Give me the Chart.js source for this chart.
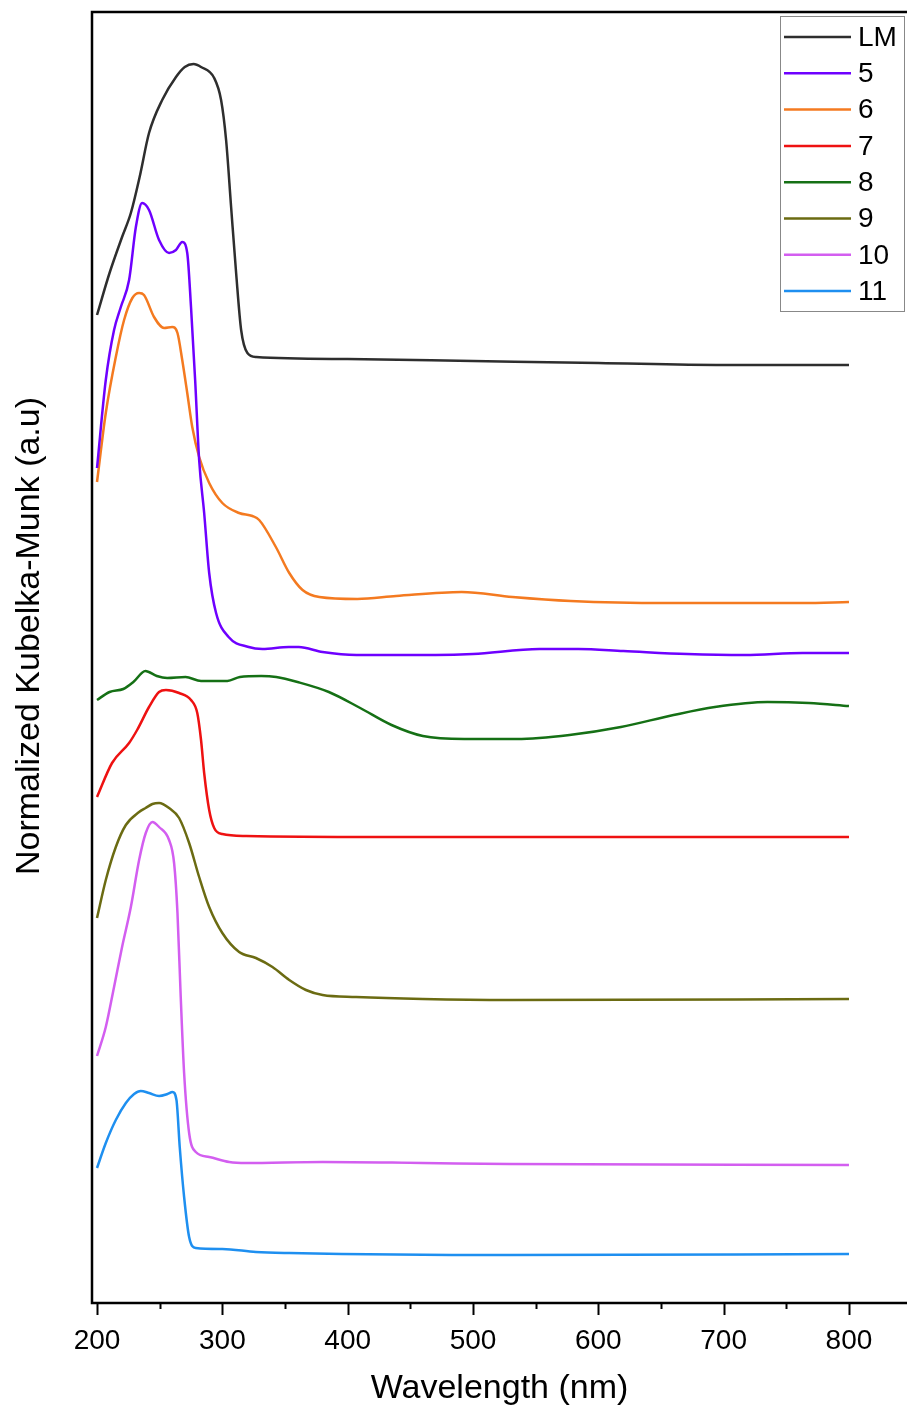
<!DOCTYPE html>
<html>
<head>
<meta charset="utf-8">
<title>Normalized Kubelka-Munk</title>
<script src="https://cdn.jsdelivr.net/npm/chart.js@4.4.0/dist/chart.umd.min.js"></script>
<style>
    html, body { margin: 0; padding: 0; background: #fff; }
    canvas { display: block; }
</style>
</head>
<body>
<canvas id="kmChart" width="907" height="1409"></canvas>
<script>
// Series labels and colours (legend order)
const seriesLabels = ['LM', '5', '6', '7', '8', '9', '10', '11'];
const seriesColors = ['#2e2e2e', '#6e00ff', '#f47a20', '#ee1111', '#157015', '#6b6b12', '#d35ef0', '#1e8ff0'];

// Wavelength (nm) / normalized K-M (a.u., offset stacked)
const lmNm = [200, 210, 220, 227, 234, 241.5, 252, 263, 270, 277, 283, 293.5, 299, 303, 307, 311, 315, 320, 327, 400, 500, 600, 700, 800];
const lmKM = [9.88, 10.30, 10.66, 10.90, 11.26, 11.70, 12.03, 12.26, 12.36, 12.39, 12.36, 12.25, 12.03, 11.63, 10.96, 10.30, 9.73, 9.50, 9.46, 9.44, 9.42, 9.40, 9.38, 9.38];

const s5Nm = [200, 207, 213.6, 219, 225.6, 231, 236, 241.5, 249.5, 257.5, 263, 268, 272, 275, 278.3, 281.5, 285.5, 289.5, 295, 305, 321, 332, 353, 361, 380, 407, 440, 470, 500, 553, 584, 620, 671, 717, 763, 800];
const s5KM = [8.35, 9.23, 9.73, 9.96, 10.23, 10.76, 11.00, 10.93, 10.63, 10.50, 10.53, 10.61, 10.50, 9.96, 9.23, 8.43, 7.90, 7.30, 6.90, 6.66, 6.56, 6.54, 6.56, 6.56, 6.51, 6.48, 6.48, 6.48, 6.49, 6.54, 6.54, 6.52, 6.49, 6.48, 6.50, 6.50];

const s6Nm = [200, 207, 215, 221.6, 228.2, 233.6, 237.5, 245.5, 253.5, 260, 264.2, 268, 272, 276, 281.5, 289.5, 300, 313.4, 324, 329.4, 342.7, 353.4, 364, 377.4, 407.7, 438.7, 491, 531.5, 578, 655, 763, 800];
const s6KM = [8.21, 8.90, 9.46, 9.83, 10.05, 10.10, 10.08, 9.86, 9.75, 9.76, 9.70, 9.43, 9.10, 8.76, 8.46, 8.20, 8.00, 7.90, 7.87, 7.83, 7.56, 7.30, 7.13, 7.06, 7.04, 7.07, 7.11, 7.06, 7.02, 7.00, 7.00, 7.01];

const s7Nm = [200, 212, 225.6, 232, 241.5, 249.5, 255, 265.5, 275, 280, 283, 285.5, 289.5, 293.5, 300, 319, 425, 800];
const s7KM = [5.06, 5.40, 5.60, 5.73, 5.96, 6.11, 6.13, 6.10, 6.03, 5.90, 5.63, 5.30, 4.93, 4.75, 4.69, 4.67, 4.66, 4.66];

const s8Nm = [200, 210, 221, 229, 238.6, 247.7, 256, 270.6, 283, 291.5, 304, 314, 331, 343, 360, 385, 410, 435, 460, 493, 535, 577, 618, 660, 693, 735, 768, 800];
const s8KM = [6.03, 6.11, 6.14, 6.21, 6.32, 6.27, 6.25, 6.26, 6.22, 6.22, 6.22, 6.26, 6.27, 6.26, 6.21, 6.11, 5.95, 5.78, 5.67, 5.64, 5.64, 5.68, 5.76, 5.88, 5.96, 6.01, 6.00, 5.97];

const s9Nm = [200, 207, 215, 223, 233.6, 238.8, 244.2, 249.5, 257.5, 265.5, 273.5, 281.5, 289.5, 300, 313.4, 326.8, 340, 353.4, 366.7, 380, 406.7, 460, 529, 800];
const s9KM = [3.85, 4.23, 4.56, 4.78, 4.91, 4.95, 4.99, 5.00, 4.95, 4.85, 4.60, 4.26, 3.96, 3.70, 3.51, 3.45, 3.36, 3.23, 3.13, 3.08, 3.06, 3.04, 3.03, 3.04];

const s10Nm = [200, 207, 213.6, 220, 227, 233.6, 238.9, 244.2, 249.5, 257.5, 261.5, 264.2, 266.8, 269.5, 273.5, 278.8, 289.5, 305.5, 318.8, 380, 460, 529, 800];
const s10KM = [2.47, 2.76, 3.16, 3.56, 3.96, 4.43, 4.70, 4.81, 4.76, 4.63, 4.40, 3.90, 3.06, 2.30, 1.70, 1.51, 1.46, 1.41, 1.40, 1.41, 1.40, 1.39, 1.38];

const s11Nm = [200, 207, 215, 223, 229.6, 234.9, 241.5, 249.5, 256.2, 260.2, 263.4, 266, 269.5, 273.5, 278.8, 300, 326.8, 353.4, 529, 800];
const s11KM = [1.35, 1.60, 1.83, 2.00, 2.09, 2.12, 2.10, 2.07, 2.09, 2.11, 2.03, 1.56, 1.06, 0.66, 0.55, 0.54, 0.51, 0.50, 0.48, 0.49];

// Axis ticks
const majorTicks = [200, 300, 400, 500, 600, 700, 800];
const minorTicks = [250, 350, 450, 550, 650, 750];

const allNm = [lmNm, s5Nm, s6Nm, s7Nm, s8Nm, s9Nm, s10Nm, s11Nm];
const allKM = [lmKM, s5KM, s6KM, s7KM, s8KM, s9KM, s10KM, s11KM];

const FONT = '"Liberation Sans", Arial, sans-serif';

// Frame, tick marks, legend and y title
const decorPlugin = {
    id: 'decor',
    afterDraw(chart) {
        const ctx = chart.ctx;
        const area = chart.chartArea;
        const x = chart.scales.x;
        ctx.save();

        // frame (right side runs off the canvas)
        ctx.strokeStyle = '#000';
        ctx.lineWidth = 2.5;
        ctx.beginPath();
        ctx.moveTo(area.right + 5, area.top);
        ctx.lineTo(area.left, area.top);
        ctx.lineTo(area.left, area.bottom);
        ctx.lineTo(area.right + 5, area.bottom);
        ctx.stroke();

        // tick marks
        ctx.lineWidth = 2;
        majorTicks.concat(minorTicks).forEach(v => {
            const px = Math.round(x.getPixelForValue(v)) + 0.5;
            const len = majorTicks.includes(v) ? 12 : 6;
            ctx.beginPath();
            ctx.moveTo(px, area.bottom);
            ctx.lineTo(px, area.bottom + len);
            ctx.stroke();
        });

        // legend box
        ctx.strokeStyle = '#888';
        ctx.lineWidth = 1;
        ctx.strokeRect(780.5, 16.5, 124, 295);
        ctx.font = '28px ' + FONT;
        ctx.textBaseline = 'middle';
        ctx.textAlign = 'left';
        ctx.fillStyle = '#000';
        seriesLabels.forEach((label, i) => {
            const y = 37 + i * 36.3;
            ctx.strokeStyle = seriesColors[i];
            ctx.lineWidth = 2.5;
            ctx.beginPath();
            ctx.moveTo(784, y);
            ctx.lineTo(851, y);
            ctx.stroke();
            ctx.fillText(label, 858, y + 1);
        });

        // y axis title
        ctx.translate(30, 636);
        ctx.rotate(-Math.PI / 2);
        ctx.textAlign = 'center';
        ctx.font = '34px ' + FONT;
        ctx.fillText('Normalized Kubelka-Munk (a.u)', 0, 0);
        ctx.restore();
    }
};

const datasets = seriesLabels.map((label, i) => ({
    label: label,
    data: allNm[i].map((nm, j) => ({ x: nm, y: allKM[i][j] })),
    borderColor: seriesColors[i],
    borderWidth: 2.5,
    pointRadius: 0,
    fill: false,
    cubicInterpolationMode: 'monotone'
}));

new Chart(document.getElementById('kmChart').getContext('2d'), {
    type: 'line',
    data: { datasets: datasets },
    options: {
        responsive: false,
        animation: false,
        events: [],
        layout: { padding: { left: 92, top: 12, right: 0, bottom: 0 } },
        plugins: {
            legend: { display: false },
            tooltip: { enabled: false }
        },
        scales: {
            x: {
                type: 'linear',
                min: 196,
                max: 846.3,
                grid: { display: false, drawTicks: false },
                border: { display: false },
                afterBuildTicks: scale => {
                    scale.ticks = majorTicks.map(v => ({ value: v }));
                },
                afterFit: scale => { scale.height = 106; },
                ticks: {
                    autoSkip: false,
                    maxRotation: 0,
                    padding: 21,
                    color: '#000',
                    font: { family: FONT, size: 28 },
                    callback: v => String(v)
                },
                title: {
                    display: true,
                    text: 'Wavelength (nm)',
                    color: '#000',
                    font: { family: FONT, size: 34 },
                    padding: { top: 0, bottom: 0 }
                }
            },
            y: {
                display: false,
                min: 0,
                max: 12.91
            }
        }
    },
    plugins: [decorPlugin]
});
</script>
</body>
</html>
